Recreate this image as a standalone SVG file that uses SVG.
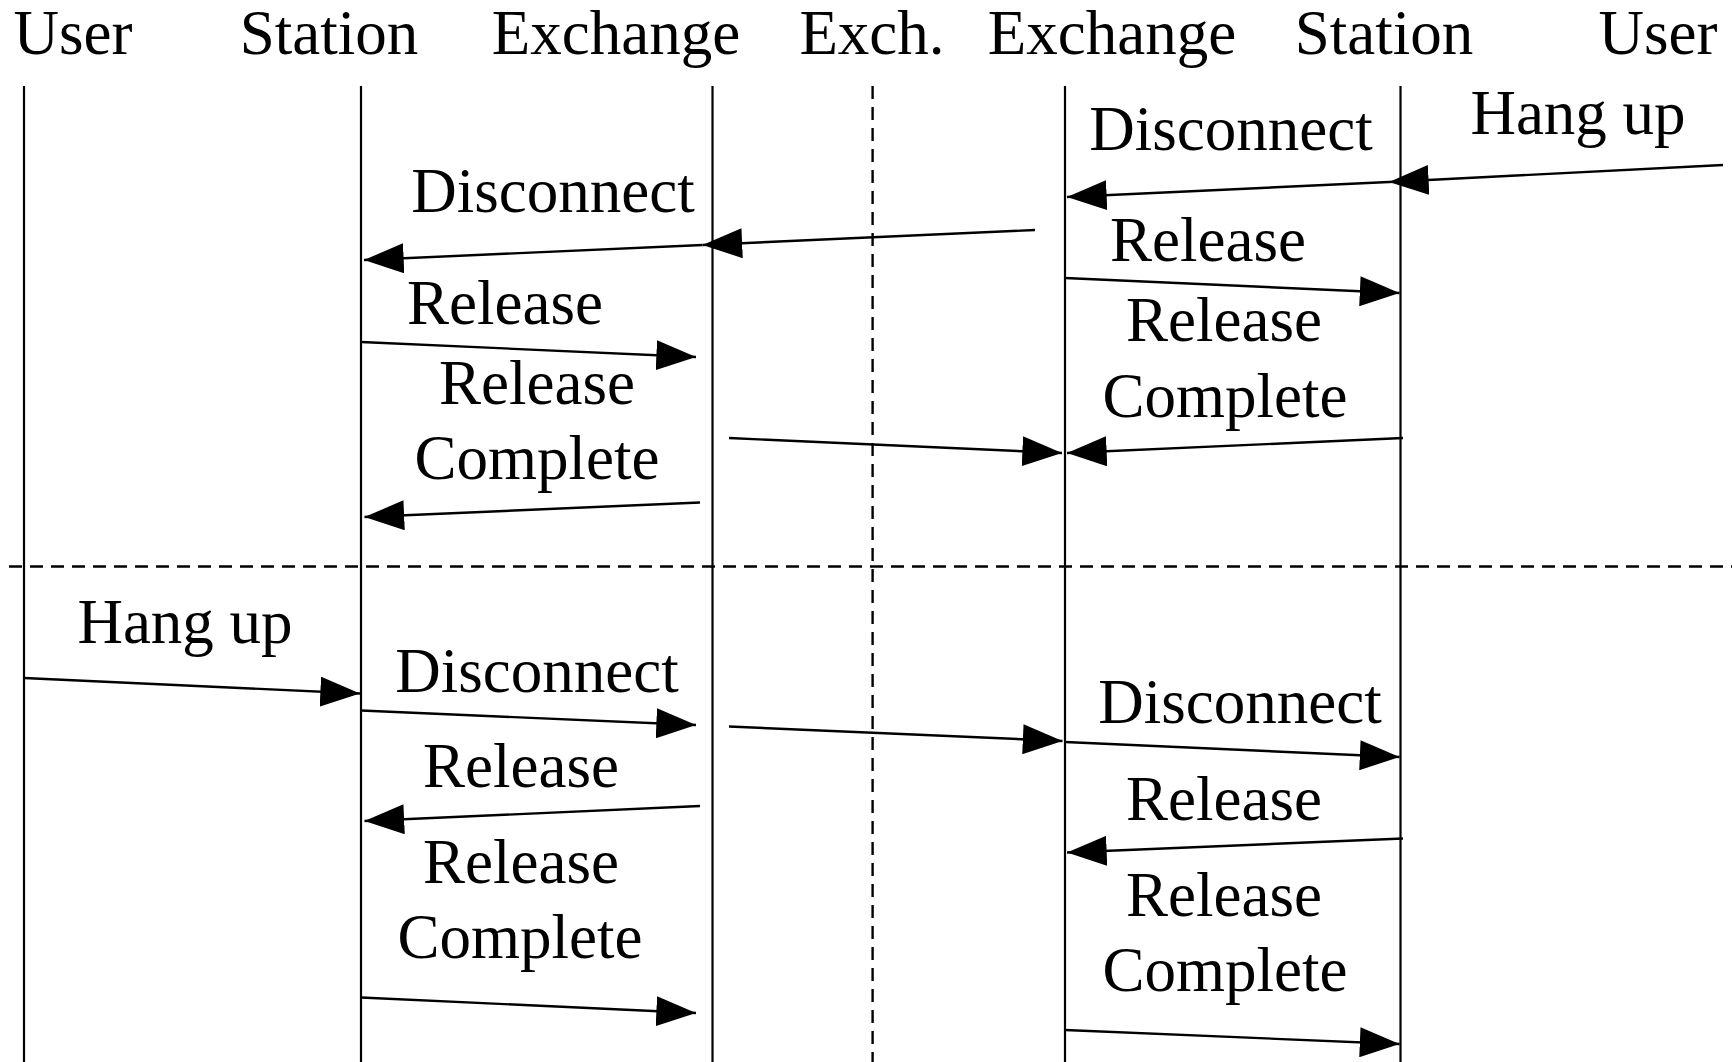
<svg xmlns="http://www.w3.org/2000/svg" width="1732" height="1062" viewBox="0 0 1732 1062">
<style>
text{font-family:"Liberation Serif","Times New Roman",serif;font-size:63px;fill:#000;text-anchor:middle}
.life{stroke:#000;stroke-width:2.2;fill:none}
.dash{stroke:#000;stroke-width:2.4;stroke-dasharray:13 8;fill:none}
.msg{stroke:#000;stroke-width:2.4;fill:none;marker-end:url(#ah)}
</style>
<defs>
<marker id="ah" markerUnits="userSpaceOnUse" markerWidth="40" markerHeight="30" viewBox="0 0 37 28" refX="37" refY="14" orient="auto">
<path d="M0,0 L37,14 L0,28 Z" fill="#000"/>
</marker>
</defs>
<rect width="1732" height="1062" fill="#fff"/>
<g id="nodes">
<g id="user-left"><text x="73" y="54">User</text><line class="life" x1="24" y1="86" x2="24" y2="1062"/></g>
<g id="station-left"><text x="329" y="54">Station</text><line class="life" x1="361" y1="86" x2="361" y2="1062"/></g>
<g id="exchange-left"><text x="616" y="54">Exchange</text><line class="life" x1="712.5" y1="86" x2="712.5" y2="1062"/></g>
<g id="exch-mid"><text x="872" y="54">Exch.</text><line class="dash" x1="872.6" y1="86" x2="872.6" y2="1062"/></g>
<g id="exchange-right"><text x="1112" y="54">Exchange</text><line class="life" x1="1065" y1="86" x2="1065" y2="1062"/></g>
<g id="station-right"><text x="1384" y="54">Station</text><line class="life" x1="1400.5" y1="86" x2="1400.5" y2="1062"/></g>
<g id="user-right"><text x="1658" y="54">User</text></g>
<g id="separator"><line class="dash" x1="9" y1="566.5" x2="1732" y2="566.5"/></g>
</g>
<g id="labels">
<text x="1578" y="134">Hang up</text>
<text x="1231" y="150">Disconnect</text>
<text x="553" y="212">Disconnect</text>
<text x="1208" y="261">Release</text>
<text x="505" y="324">Release</text>
<text x="1224" y="341">Release</text>
<text x="1225" y="417">Complete</text>
<text x="537" y="404">Release</text>
<text x="537" y="479">Complete</text>
<text x="185" y="643">Hang up</text>
<text x="537" y="692">Disconnect</text>
<text x="1240" y="723">Disconnect</text>
<text x="521" y="787">Release</text>
<text x="1224" y="820">Release</text>
<text x="521" y="883">Release</text>
<text x="520" y="958">Complete</text>
<text x="1224" y="916">Release</text>
<text x="1225" y="991">Complete</text>
</g>
<g id="connectors">
<line class="msg" x1="1723" y1="165" x2="1389" y2="182"/>
<line class="msg" x1="1389" y1="182" x2="1067" y2="197"/>
<line class="msg" x1="1035" y1="230" x2="702.5" y2="245"/>
<line class="msg" x1="702.5" y1="245" x2="364" y2="260"/>
<line class="msg" x1="1065" y1="278" x2="1399.5" y2="293"/>
<line class="msg" x1="361" y1="342" x2="696" y2="357"/>
<line class="msg" x1="729" y1="438" x2="1062" y2="453"/>
<line class="msg" x1="1403" y1="438" x2="1067" y2="453"/>
<line class="msg" x1="700" y1="502.5" x2="364.5" y2="517"/>
<line class="msg" x1="24" y1="678" x2="360" y2="693.5"/>
<line class="msg" x1="361" y1="710.5" x2="696" y2="725"/>
<line class="msg" x1="729" y1="726.5" x2="1062.5" y2="741"/>
<line class="msg" x1="1065" y1="742" x2="1399.5" y2="757"/>
<line class="msg" x1="700" y1="806" x2="364.5" y2="821"/>
<line class="msg" x1="1403" y1="838.5" x2="1067" y2="852.5"/>
<line class="msg" x1="361" y1="997.5" x2="696" y2="1013"/>
<line class="msg" x1="1065" y1="1030" x2="1399.5" y2="1044"/>
</g>
</svg>
